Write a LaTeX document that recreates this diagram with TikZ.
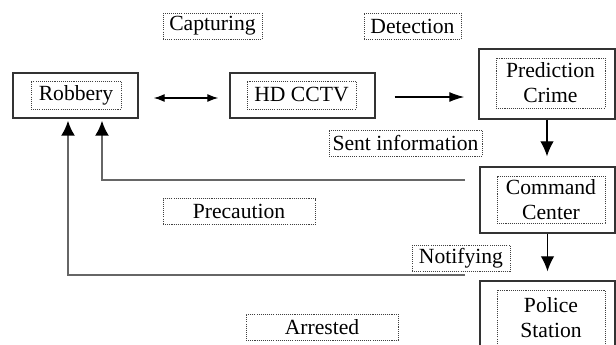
\documentclass[tikz,border=0pt]{standalone}
\usepackage{fontspec}
\setmainfont{Liberation Serif}
\usepackage{tikz}
\usetikzlibrary{arrows.meta}

\tikzset{
  outerbox/.style={draw=black!80, line width=0.8pt, minimum width=#1, inner sep=0pt},
  innerbox/.style={draw=black!75, line width=0.5pt, dash pattern=on 0.6pt off 0.6pt,
    align=center, inner sep=0pt, font=\fontsize{12.3}{14.2}\selectfont},
  tagbox/.style={innerbox, minimum height=0.52cm},
  flow/.style={-{Latex[length=0.3cm,width=0.2cm]}, line width=0.7pt},
  downflow/.style={-{Latex[length=0.3cm,width=0.27cm]}, line width=0.7pt},
  feedback/.style={-{Latex[length=0.3cm,width=0.28cm,color=black]}, draw=black!60, line width=1.1pt}
}

\begin{document}
\begin{tikzpicture}[x=0.02cm,y=-0.02cm]
            \clip (0,0) rectangle (616,345);
            % Boxes
            \node[outerbox=2.5cm, minimum height=0.9cm] (robbery) at (75.5,95.5) {};
            \node[innerbox, minimum width=1.8cm, minimum height=0.56cm] (robberyT) at (76,95) {Robbery};
            \node[outerbox=2.9cm, minimum height=0.9cm] (cctv) at (302.5,95.5) {};
            \node[innerbox, minimum width=2.18cm, minimum height=0.56cm] (cctvT) at (301.5,95) {HD CCTV};
            \node[outerbox=2.72cm, minimum height=1.4cm] (pred) at (547,84) {};
            \node[innerbox, minimum width=2.18cm, minimum height=1cm] (predT) at (550.5,83) {Prediction\\Crime};
            \node[outerbox=2.7cm, minimum height=1.32cm] (cmd) at (547.5,200) {};
            \node[innerbox, minimum width=2.16cm, minimum height=0.94cm] (cmdT) at (551,199.5) {Command\\Center};
            \node[outerbox=2.7cm, minimum height=1.58cm] (police) at (547.5,320.5) {};
            \node[innerbox, minimum width=2.16cm, minimum height=1.12cm] (policeT) at (551,318) {Police\\Station};
            % Labels
            \node[tagbox, minimum width=1.98cm] (capt) at (212.5,26) {Capturing};
            \node[tagbox, minimum width=1.94cm] (detect) at (412.5,26) {Detection};
            \node[tagbox, minimum width=3.06cm] (sent) at (405.5,143) {Sent information};
            \node[tagbox, minimum width=1.96cm] (notify) at (461,258) {Notifying};
            \node[tagbox, minimum width=3.04cm] (precau) at (239,211.5) {Precaution};
            \node[tagbox, minimum width=3.04cm] (arrest) at (322,327) {Arrested};
            % Arrows
            \draw[line width=0.7pt, {Latex[length=0.22cm,width=0.16cm]}-{Latex[length=0.22cm,width=0.16cm]}, shorten <=0.3cm, shorten >=0.22cm]
              ([yshift=-0.05cm]robbery.east) -- ([yshift=-0.05cm]cctv.west);
            \draw[flow, shorten <=0.38cm, shorten >=0.28cm] ([yshift=-0.03cm]cctv.east) -- ([yshift=-0.03cm]cctv.east -| pred.west);
            \draw[downflow, shorten >=0.2cm] (pred.south) -- (pred.south |- cmd.north);
            \draw[downflow, shorten >=0.18cm] (cmd.south) -- (police.north);
            % Feedback lines
            \coordinate (fromCmd) at (465,180);
            \coordinate (fromPolice) at (465,275);
            \draw[feedback] (fromCmd) -| ([xshift=0.53cm,yshift=-0.04cm]robbery.south);
            \draw[feedback] (fromPolice) -| ([xshift=-0.15cm,yshift=-0.04cm]robbery.south);
        \end{tikzpicture}
\end{document}
